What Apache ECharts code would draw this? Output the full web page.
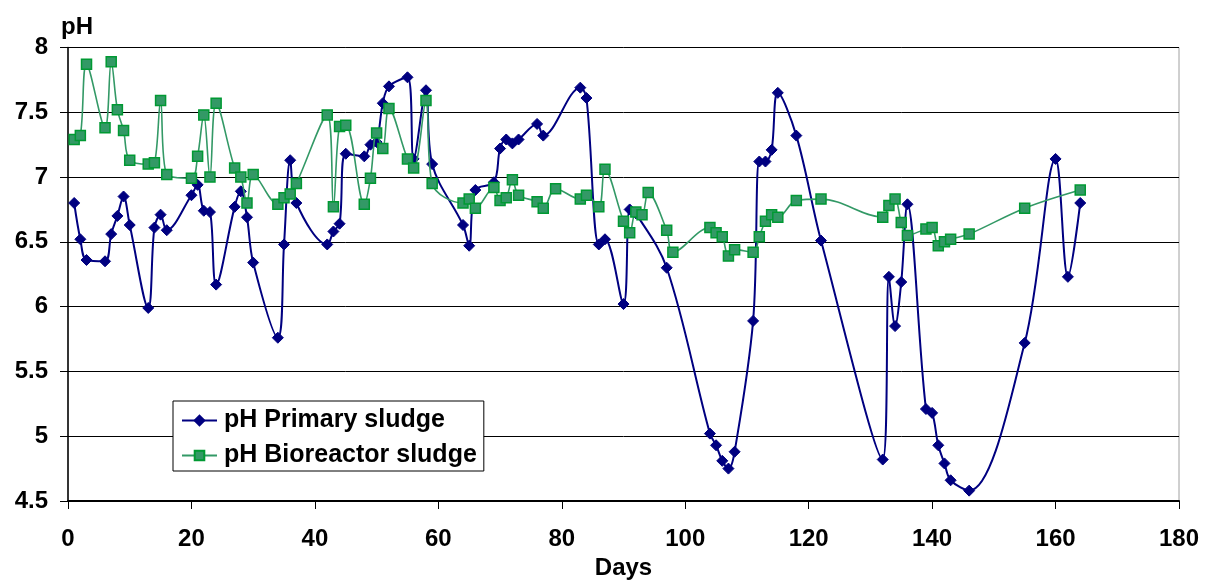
<!DOCTYPE html>
<html>
<head>
<meta charset="utf-8">
<script src="https://cdn.jsdelivr.net/npm/echarts@6/dist/echarts.min.js"></script>
<style>
html,body{margin:0;padding:0;background:#fff;}
#chart{width:1210px;height:580px;}
</style>
</head>
<body>
<div id="chart"></div>
<script>
// ---- data ----
const primaryDays = [1,2,3,6,7,8,9,10,13,14,15,16,20,21,22,23,24,27,28,29,30,34,35,36,37,42,43,44,45,48,49,50,51,52,55,56,58,59,64,65,66,69,70,71,72,73,76,77,83,84,86,87,90,91,92,97,104,105,106,107,108,111,112,113,114,115,118,122,132,133,134,135,136,139,140,141,142,143,146,155,160,162,164];
const primaryPH = [6.80,6.52,6.36,6.35,6.56,6.70,6.85,6.63,5.99,6.61,6.71,6.59,6.86,6.94,6.74,6.73,6.17,6.77,6.89,6.69,6.34,5.76,6.48,7.13,6.80,6.48,6.58,6.64,7.18,7.16,7.25,7.27,7.57,7.70,7.77,7.14,7.67,7.10,6.63,6.47,6.90,6.96,7.22,7.29,7.26,7.29,7.41,7.32,7.69,7.61,6.48,6.52,6.02,6.75,6.72,6.30,5.02,4.93,4.81,4.75,4.88,5.89,7.12,7.12,7.21,7.65,7.32,6.51,4.82,6.23,5.85,6.19,6.79,5.21,5.18,4.93,4.79,4.66,4.58,5.72,7.14,6.23,6.80];

const bioDays = [1,2,3,6,7,8,9,10,13,14,15,16,20,21,22,23,24,27,28,29,30,34,35,36,37,42,43,44,45,48,49,50,51,52,55,56,58,59,64,65,66,69,70,71,72,73,76,77,79,83,84,86,87,90,91,92,93,94,97,98,104,105,106,107,108,111,112,113,114,115,118,122,132,133,134,135,136,139,140,141,142,143,146,155,164];
const bioPH = [7.29,7.32,7.87,7.38,7.89,7.52,7.36,7.13,7.10,7.11,7.59,7.02,6.99,7.16,7.48,7.00,7.57,7.07,7.00,6.80,7.02,6.79,6.84,6.87,6.95,7.48,6.77,7.39,7.40,6.79,6.99,7.34,7.22,7.53,7.14,7.07,7.59,6.95,6.80,6.83,6.76,6.92,6.82,6.84,6.98,6.86,6.81,6.76,6.91,6.83,6.86,6.77,7.06,6.66,6.57,6.73,6.71,6.88,6.59,6.42,6.61,6.57,6.54,6.39,6.44,6.42,6.54,6.66,6.71,6.69,6.82,6.83,6.69,6.78,6.83,6.65,6.55,6.60,6.61,6.47,6.50,6.52,6.56,6.76,6.90];

const xTicks = [0,20,40,60,80,100,120,140,160,180];
const yTicks = [4.5,5,5.5,6,6.5,7,7.5,8];
const seriesNames = ['pH Primary sludge','pH Bioreactor sludge'];
const axisTitles = {x:'Days', y:'pH'};

function zip(a,b){ return a.map((d,i)=>[d,b[i]]); }

const FONT = 'Liberation Sans, Arial, sans-serif';
const chart = echarts.init(document.getElementById('chart'), null, {renderer:'canvas'});
chart.setOption({
  animation:false,
  backgroundColor:'#ffffff',
  title:{
    text:axisTitles.y, left:56, top:10,
    textStyle:{fontFamily:FONT, fontWeight:'bold', fontSize:24, color:'#000'}
  },
  grid:{left:68, right:31, top:47.5, bottom:79, containLabel:false, outerBoundsMode:'none',
        show:true, borderColor:'#a0a0a0', borderWidth:1},
  legend:{
    orient:'vertical', left:173, top:401,
    backgroundColor:'#fff', borderColor:'#000', borderWidth:1,
    padding:[7,7,3,8], itemGap:10, itemWidth:35, itemHeight:12,
    textStyle:{fontFamily:FONT, fontWeight:'bold', fontSize:25, color:'#000', padding:[0,0,0,2]},
    data:seriesNames
  },
  xAxis:{
    type:'value', min:xTicks[0], max:xTicks[xTicks.length-1], interval:20,
    name:axisTitles.x, nameLocation:'middle', nameGap:53,
    nameTextStyle:{fontFamily:FONT, fontWeight:'bold', fontSize:24, color:'#000'},
    axisLine:{show:true, onZero:false, lineStyle:{color:'#000', width:2}},
    axisTick:{show:true, length:8, lineStyle:{color:'#000', width:1}},
    axisLabel:{margin:26, fontFamily:FONT, fontWeight:'bold', fontSize:24, color:'#000'},
    splitLine:{show:false}
  },
  yAxis:{
    type:'value', min:yTicks[0], max:yTicks[yTicks.length-1], interval:0.5,
    axisLine:{show:true, lineStyle:{color:'#000', width:1.5}},
    axisTick:{show:true, length:8, lineStyle:{color:'#000', width:1}},
    axisLabel:{margin:20, fontFamily:FONT, fontWeight:'bold', fontSize:24, color:'#000'},
    splitLine:{show:true, lineStyle:{color:'#000', width:1}}
  },
  series:[
    {
      name:seriesNames[0], type:'line', smooth:0.35,
      data:zip(primaryDays, primaryPH),
      symbol:'diamond', symbolSize:11,
      lineStyle:{color:'#000080', width:2},
      itemStyle:{color:'#000080', borderColor:'#000080', borderWidth:1},
      z:2
    },
    {
      name:seriesNames[1], type:'line', smooth:0.35,
      data:zip(bioDays, bioPH),
      symbol:'rect', symbolSize:10,
      lineStyle:{color:'#339966', width:1.6},
      itemStyle:{color:'#339966', borderColor:'#009933', borderWidth:1.5},
      z:3
    }
  ]
});
</script>
</body>
</html>
